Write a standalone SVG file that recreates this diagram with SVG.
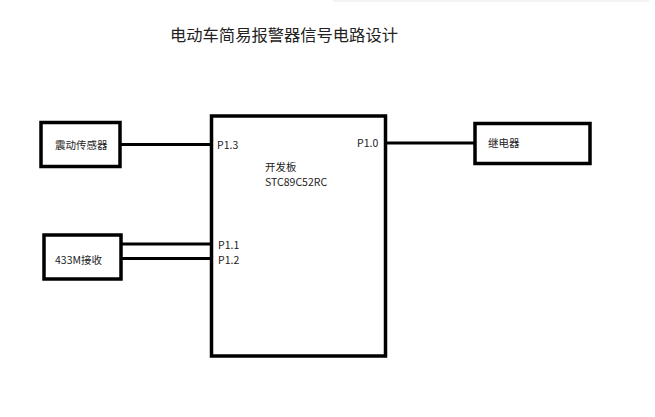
<svg xmlns="http://www.w3.org/2000/svg" width="655" height="417" viewBox="0 0 655 417">
<style>
.box{fill:#fff;stroke:#000;stroke-width:3.5}
.wire{stroke:#000;stroke-width:3;fill:none}
.lbl{font-family:"Noto Sans CJK SC","Noto Sans",sans-serif;font-size:10.5px;fill:#222}
.title{font-family:"Noto Sans CJK SC",sans-serif;font-size:16.3px;fill:#222}
</style>
<rect x="0" y="0" width="655" height="417" fill="#fff"/>
<rect x="333" y="0" width="316" height="2" fill="#f3f3f3"/>
<text class="title" x="170" y="41">电动车简易报警器信号电路设计</text>
<g id="connectors">
<line class="wire" x1="121" y1="144.5" x2="212" y2="144.5"/>
<line class="wire" x1="121" y1="244" x2="212" y2="244"/>
<line class="wire" x1="121" y1="258.5" x2="212" y2="258.5"/>
<line class="wire" x1="386" y1="143" x2="475" y2="143"/>
</g>
<g id="mcu">
<rect class="box" x="211.5" y="116" width="174" height="240" stroke-width="3"/>
<text class="lbl" x="217" y="149">P1.3</text>
<text class="lbl" x="357" y="146.5">P1.0</text>
<text class="lbl" x="218" y="248.5">P1.1</text>
<text class="lbl" x="218" y="264">P1.2</text>
<text class="lbl" x="265" y="171">开发板</text>
<text class="lbl" x="265" y="186">STC89C52RC</text>
</g>
<g id="sensor">
<rect class="box" x="41" y="122.5" width="79" height="44"/>
<text class="lbl" x="55" y="149">震动传感器</text>
</g>
<g id="receiver">
<rect class="box" x="44" y="235" width="77" height="44"/>
<text class="lbl" x="55" y="264">433M接收</text>
</g>
<g id="relay">
<rect class="box" x="475" y="123.5" width="115" height="40"/>
<text class="lbl" x="488" y="147">继电器</text>
</g>
</svg>
